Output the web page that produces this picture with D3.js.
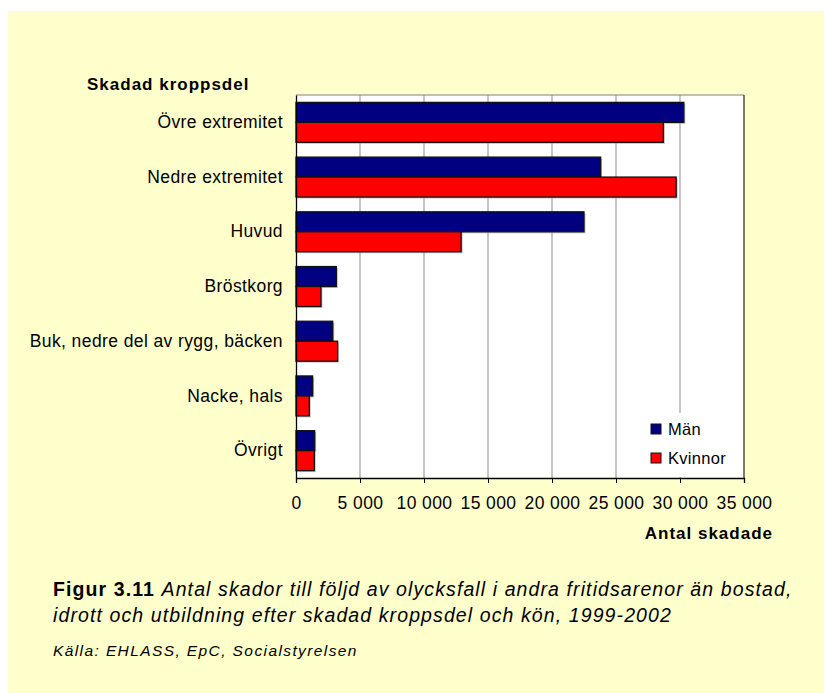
<!DOCTYPE html>
<html>
<head>
<meta charset="utf-8">
<script src="https://cdn.jsdelivr.net/npm/d3@7"></script>
<style>
  html, body { margin: 0; padding: 0; background: #ffffff; }
  svg { display: block; }
  text { font-family: "Liberation Sans", Arial, sans-serif; }
</style>
</head>
<body>
<svg id="chart" width="824" height="693"></svg>
<script>
const categories = ["Övre extremitet", "Nedre extremitet", "Huvud", "Bröstkorg",
  "Buk, nedre del av rygg, bäcken", "Nacke, hals", "Övrigt"];
const seriesNames = ["Män", "Kvinnor"];
const men = [30300, 23800, 22500, 3150, 2870, 1300, 1460];
const women = [28700, 29700, 12900, 1950, 3250, 1040, 1430];
const xTicks = [0, 5000, 10000, 15000, 20000, 25000, 30000, 35000];
const colors = ["#000080", "#FF0000"];

const FONT = "Liberation Sans, Arial, sans-serif";
const svg = d3.select("#chart");
svg.append("rect").attr("x", 8).attr("y", 11).attr("width", 816).attr("height", 682).attr("fill", "#FFFFCC");

const L = 296, R = 744, T = 95, B = 478;
const x = d3.scaleLinear().domain([0, 35000]).range([L, R]);
const y = d3.scaleBand().domain(categories).range([T, B]).paddingInner(0.27).paddingOuter(0.135);
const sub = d3.scaleBand().domain(seriesNames).range([0, y.bandwidth()]);

// plot area
svg.append("rect").attr("x", L).attr("y", T).attr("width", R - L).attr("height", B - T).attr("fill", "#ffffff");

// gridlines
svg.append("g").selectAll("line").data(xTicks.slice(1, -1)).join("line")
  .attr("x1", d => x(d)).attr("x2", d => x(d)).attr("y1", T).attr("y2", B)
  .attr("stroke", "#A0A0A0").attr("stroke-width", 1.2);

// border top/right
svg.append("line").attr("x1", L).attr("x2", R).attr("y1", T).attr("y2", T).attr("stroke", "#808080").attr("stroke-width", 1.2);
svg.append("line").attr("x1", R).attr("x2", R).attr("y1", T).attr("y2", B).attr("stroke", "#222").attr("stroke-width", 1.2);

// bars
const data = [];
categories.forEach((c, i) => {
  data.push({ cat: c, s: "Män", v: men[i], col: colors[0] });
  data.push({ cat: c, s: "Kvinnor", v: women[i], col: colors[1] });
});
const g = svg.append("g");
g.selectAll("rect.shadow").data(data).join("rect").attr("class", "shadow")
  .attr("x", x(0) + 1.5).attr("y", d => y(d.cat) + sub(d.s) + 1.5)
  .attr("width", d => x(d.v) - x(0)).attr("height", sub.bandwidth())
  .attr("fill", "#9a9a9a").attr("opacity", 0.6);
g.selectAll("rect.bar").data(data).join("rect").attr("class", "bar")
  .attr("x", x(0)).attr("y", d => y(d.cat) + sub(d.s))
  .attr("width", d => x(d.v) - x(0)).attr("height", sub.bandwidth())
  .attr("fill", d => d.col).attr("stroke", "#111").attr("stroke-width", 1.3);

// legend
const lg = svg.append("g");
lg.append("rect").attr("x", 642).attr("y", 413).attr("width", 100).attr("height", 64).attr("fill", "#ffffff");
seriesNames.forEach((n, i) => {
  const yy = 429 + i * 29;
  lg.append("rect").attr("x", 651).attr("y", yy - 5).attr("width", 10).attr("height", 10)
    .attr("fill", colors[i]).attr("stroke", "#111").attr("stroke-width", 1);
  lg.append("text").attr("x", 668).attr("y", yy).attr("dy", "0.35em")
    .attr("font-size", 16.5).attr("letter-spacing", 0.3).attr("fill", "#000").text(n);
});

// x axis
const xAxis = d3.axisBottom(x).tickValues(xTicks).tickSize(5).tickPadding(14)
  .tickFormat(d => d3.format(",")(d).replace(/,/g, " "));
const ax = svg.append("g").attr("transform", `translate(0,${B})`).call(xAxis);
ax.select(".domain").attr("stroke", "#000").attr("stroke-width", 1.3);
ax.selectAll(".tick line").attr("stroke", "#000");
ax.selectAll("text").attr("font-size", 17.5).attr("letter-spacing", 0.4).attr("fill", "#000").attr("font-family", FONT);

// y axis
const yAxis = d3.axisLeft(y).tickSize(0).tickPadding(13);
const ay = svg.append("g").attr("transform", `translate(${L},0)`).call(yAxis);
ay.select(".domain").attr("stroke", "#000").attr("stroke-width", 1.3);
ay.selectAll("text").attr("font-size", 17.5).attr("letter-spacing", 0.4).attr("fill", "#000").attr("font-family", FONT);

// axis titles
svg.append("text").attr("x", 87).attr("y", 90).attr("font-size", 17).attr("font-weight", "bold")
  .attr("letter-spacing", 1).text("Skadad kroppsdel");
svg.append("text").attr("x", 773).attr("y", 539).attr("text-anchor", "end").attr("font-size", 17)
  .attr("font-weight", "bold").attr("letter-spacing", 1).text("Antal skadade");

// caption
const cap = svg.append("text").attr("x", 53).attr("y", 596).attr("font-size", 19.5).attr("letter-spacing", 1.1);
cap.append("tspan").attr("font-weight", "bold").text("Figur 3.11 ");
cap.append("tspan").attr("font-style", "italic").text("Antal skador till följd av olycksfall i andra fritidsarenor än bostad,");
svg.append("text").attr("x", 53).attr("y", 622).attr("font-size", 19.5).attr("letter-spacing", 1.1).attr("font-style", "italic")
  .text("idrott och utbildning efter skadad kroppsdel och kön, 1999-2002");
svg.append("text").attr("x", 53).attr("y", 656).attr("font-size", 15.5).attr("letter-spacing", 1.4).attr("font-style", "italic")
  .text("Källa: EHLASS, EpC, Socialstyrelsen");
</script>
</body>
</html>
